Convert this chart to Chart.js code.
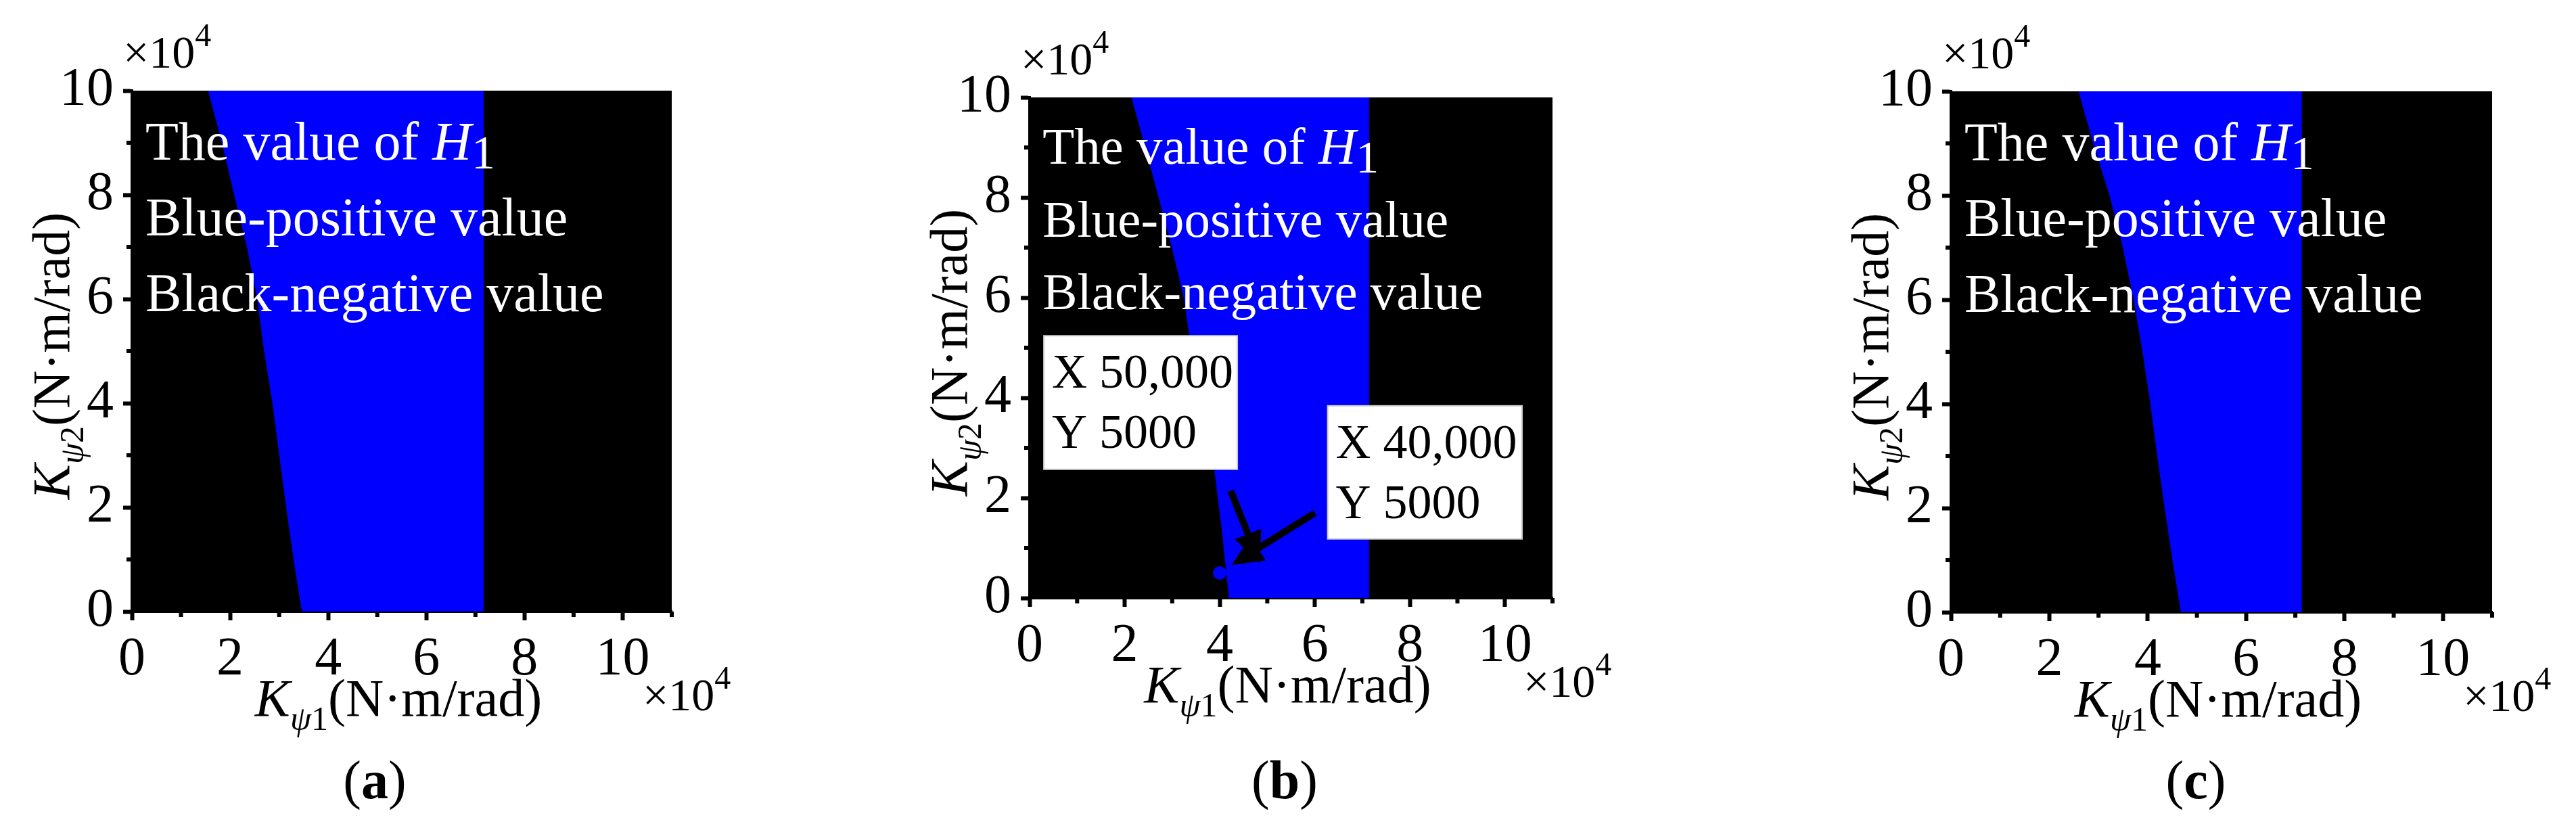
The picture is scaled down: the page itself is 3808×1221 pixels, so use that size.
<!DOCTYPE html>
<html>
<head>
<meta charset="utf-8">
<script src="https://cdn.jsdelivr.net/npm/chart.js@4.4.0/dist/chart.umd.min.js"></script>
<style>
  html, body { margin: 0; padding: 0; background: #fff; }
  #wrap { position: relative; width: 3808px; height: 1221px; overflow: hidden; background: #fff; }
  canvas { position: absolute; top: 0; }
</style>
</head>
<body>
<div id="wrap">
  <canvas id="chartA" width="1270" height="1221" style="left:0px"></canvas>
  <canvas id="chartB" width="1270" height="1221" style="left:1270px"></canvas>
  <canvas id="chartC" width="1268" height="1221" style="left:2540px"></canvas>
</div>
<script>
const SERIF = '"Liberation Serif", "Times New Roman", serif';

// axes (both in units of 10^4)
const xTicks = [0, 2, 4, 6, 8, 10];
const yTicks = [0, 2, 4, 6, 8, 10];
const xMinor = [1, 3, 5, 7, 9, 11];
const yMinor = [1, 3, 5, 7, 9];
const xMax = 11;
const yMax = 10;

// blue band (H1 > 0): left edge read at these K_psi2 values, right edge is vertical
const bandYA = [0, 1, 2, 3, 4, 5, 6, 7, 8, 9, 10];
const bandLeftA = [3.47, 3.30, 3.15, 3.01, 2.87, 2.70, 2.56, 2.35, 2.09, 1.84, 1.56];
const bandRightA = 7.16;

const bandYB = [0, 1.36, 2.58, 5.28, 6, 7, 8, 9, 10];
const bandLeftB = [4.20, 4.05, 3.89, 3.36, 3.25, 3.00, 2.72, 2.44, 2.15];
const bandRightB = 7.13;

const bandYC = [0, 1, 2, 3, 4, 5, 6, 7, 8, 9, 10];
const bandLeftC = [4.68, 4.51, 4.35, 4.20, 4.06, 3.90, 3.72, 3.50, 3.23, 2.90, 2.60];
const bandRightC = 7.12;

const noteLines = ['The value of ', 'Blue-positive value', 'Black-negative value'];

// panel (b): the two marked points and their callouts
const markX = [5, 4];
const markY = [0.5, 0.5];
const markColor = ['#000000', '#0000ff'];
const calloutText = [['X 50,000', 'Y 5000'], ['X 40,000', 'Y 5000']];
const calloutBox = [[0.30, 5.24, 4.37, 2.57], [6.27, 3.84, 10.36, 1.18]];
const arrowFrom = [[4.23, 2.14], [6.0, 1.70]];
const arrowTo = [[4.84, 0.70], [4.25, 0.66]];

const Y_W = 120, X_H = 130, H = 1221;

function bandPolygon(ys, lefts, right) {
  const pts = ys.map((y, i) => ({ x: lefts[i], y: y }));
  pts.push({ x: right, y: ys[ys.length - 1] });
  pts.push({ x: right, y: ys[0] });
  pts.push({ x: lefts[0], y: ys[0] });
  return pts;
}

function fontOf(p) {
  return (p.style || 'normal') + ' ' + (p.weight || 'normal') + ' ' + p.size + 'px ' + SERIF;
}

function drawRich(ctx, parts, x, y, align) {
  let total = 0;
  parts.forEach(p => { ctx.font = fontOf(p); p.w = ctx.measureText(p.t).width; total += p.w; });
  let cx = align === 'center' ? x - total / 2 : x;
  ctx.textAlign = 'left';
  ctx.textBaseline = 'alphabetic';
  parts.forEach(p => {
    ctx.font = fontOf(p);
    ctx.fillText(p.t, cx, y + (p.dy || 0));
    cx += p.w;
  });
}

function axisTitle(sub) {
  return [
    { t: 'K', size: 78, style: 'italic' },
    { t: '\u03c8', size: 50, style: 'italic', dy: 21 },
    { t: sub, size: 50, dy: 21 },
    { t: '(N\u00b7m/rad)', size: 78 }
  ];
}

function arrow(ctx, x1, y1, x2, y2) {
  const a = Math.atan2(y2 - y1, x2 - x1);
  const hl = 46, hw = 21;
  const bx = x2 - hl * Math.cos(a), by = y2 - hl * Math.sin(a);
  ctx.beginPath();
  ctx.moveTo(x1, y1);
  ctx.lineTo(bx, by);
  ctx.stroke();
  ctx.beginPath();
  ctx.moveTo(x2, y2);
  ctx.lineTo(bx + hw * Math.sin(a), by - hw * Math.cos(a));
  ctx.lineTo(bx - hw * Math.sin(a), by + hw * Math.cos(a));
  ctx.closePath();
  ctx.fill();
}

function makeDecor(p) {
  return {
    id: 'decor' + p.tag,
    beforeDraw(chart) {
      const { ctx, chartArea: a } = chart;
      ctx.save();
      ctx.fillStyle = '#000';
      ctx.fillRect(a.left, a.top, a.right - a.left, a.bottom - a.top);
      ctx.restore();
    },
    afterDatasetsDraw(chart) {
      const { ctx, chartArea: a } = chart;
      const xs = chart.scales.x, ys = chart.scales.y;
      const s = (a.bottom - a.top) / 770;
      ctx.save();
      ctx.fillStyle = '#fff';
      const tx = a.left + 20 * s;
      drawRich(ctx, [
        { t: noteLines[0], size: 80 * s },
        { t: 'H', size: 80 * s, style: 'italic' },
        { t: '1', size: 70 * s, dy: 13 * s }
      ], tx, a.top + 102 * s);
      drawRich(ctx, [{ t: noteLines[1], size: 80 * s }], tx, a.top + 214 * s);
      drawRich(ctx, [{ t: noteLines[2], size: 80 * s }], tx, a.top + 326 * s);

      if (p.marks) {
        ctx.strokeStyle = '#000';
        ctx.fillStyle = '#000';
        ctx.lineWidth = 10;
        ctx.lineCap = 'butt';
        arrowFrom.forEach((f, i) => {
          arrow(ctx, xs.getPixelForValue(f[0]), ys.getPixelForValue(f[1]),
            xs.getPixelForValue(arrowTo[i][0]), ys.getPixelForValue(arrowTo[i][1]));
        });
        calloutBox.forEach((b, i) => {
          const l = xs.getPixelForValue(b[0]), t = ys.getPixelForValue(b[1]);
          const r = xs.getPixelForValue(b[2]), btm = ys.getPixelForValue(b[3]);
          ctx.fillStyle = '#fff';
          ctx.fillRect(l, t, r - l, btm - t);
          ctx.strokeStyle = '#c8c8c8';
          ctx.lineWidth = 2;
          ctx.strokeRect(l, t, r - l, btm - t);
          ctx.fillStyle = '#000';
          drawRich(ctx, [{ t: calloutText[i][0], size: 72 }], l + 12, t + 77);
          drawRich(ctx, [{ t: calloutText[i][1], size: 72 }], l + 12, t + 166);
        });
      }
      ctx.restore();
    },
    afterDraw(chart) {
      const { ctx, chartArea: a } = chart;
      const xs = chart.scales.x, ys = chart.scales.y;
      ctx.save();
      ctx.strokeStyle = '#000';
      ctx.fillStyle = '#000';
      ctx.lineWidth = 6;
      xMinor.forEach(v => {
        const px = xs.getPixelForValue(v);
        ctx.beginPath(); ctx.moveTo(px, a.bottom); ctx.lineTo(px, a.bottom + 8); ctx.stroke();
      });
      yMinor.forEach(v => {
        const py = ys.getPixelForValue(v);
        ctx.beginPath(); ctx.moveTo(a.left - 8, py); ctx.lineTo(a.left, py); ctx.stroke();
      });

      // x10^4 multipliers
      const mult = [{ t: '\u00d710', size: 68 }, { t: '4', size: 48, dy: -32 }];
      drawRich(ctx, mult, a.left - 13, a.top - 34);
      drawRich(ctx, mult, a.right - 43, a.bottom + 146);

      // axis titles
      drawRich(ctx, axisTitle('1'), (a.left + a.right) / 2 - 5, a.bottom + 154, 'center');
      ctx.translate(a.left - 93, (a.top + a.bottom) / 2 + 7);
      ctx.rotate(-Math.PI / 2);
      drawRich(ctx, axisTitle('2'), 0, 0, 'center');
      ctx.setTransform(1, 0, 0, 1, 0, 0);

      // panel caption
      drawRich(ctx, [
        { t: '(', size: 80 },
        { t: p.tag, size: 80, weight: 'bold' },
        { t: ')', size: 80 }
      ], p.captionX, 1180, 'center');
      ctx.restore();
    }
  };
}

function panelChart(p) {
  const canvas = document.getElementById(p.id);
  const W = canvas.width;
  const datasets = [{
    data: bandPolygon(p.bandY, p.bandLeft, p.bandRight),
    borderColor: '#0000ff',
    borderWidth: 1,
    backgroundColor: '#0000ff',
    fill: 'shape',
    pointRadius: 0,
    tension: 0
  }];
  if (p.marks) {
    datasets.push({
      data: markX.map((x, i) => ({ x: x, y: markY[i] })),
      showLine: false,
      pointRadius: 10,
      pointBorderWidth: 0,
      pointBackgroundColor: markColor,
      pointBorderColor: markColor
    });
  }
  const tickFont = { family: SERIF, size: 80 };
  return new Chart(canvas, {
    type: 'line',
    data: { datasets: datasets },
    options: {
      responsive: false,
      animation: false,
      devicePixelRatio: 1,
      layout: {
        padding: { left: p.left - Y_W, top: p.top, right: W - p.right, bottom: H - p.bottom - X_H }
      },
      plugins: { legend: { display: false }, tooltip: { enabled: false } },
      scales: {
        x: {
          type: 'linear', min: 0, max: xMax,
          afterFit: s => { s.height = X_H; },
          afterBuildTicks: s => { s.ticks = xTicks.map(v => ({ value: v })); },
          ticks: { font: tickFont, color: '#000', padding: 11, autoSkip: false, maxRotation: 0, callback: v => String(v) },
          grid: { drawOnChartArea: false, tickLength: 13, tickWidth: 6, tickColor: '#000' },
          border: { display: true, color: '#000', width: 4 }
        },
        y: {
          type: 'linear', min: 0, max: yMax,
          afterFit: s => { s.width = Y_W; },
          afterBuildTicks: s => { s.ticks = yTicks.map(v => ({ value: v })); },
          ticks: { font: tickFont, color: '#000', padding: 14, autoSkip: false, callback: v => String(v) },
          grid: { drawOnChartArea: false, tickLength: 13, tickWidth: 6, tickColor: '#000' },
          border: { display: true, color: '#000', width: 4 }
        }
      }
    },
    plugins: [makeDecor(p)]
  });
}

panelChart({ id: 'chartA', tag: 'a', left: 195, top: 134, right: 993, bottom: 904, captionX: 554,
  bandY: bandYA, bandLeft: bandLeftA, bandRight: bandRightA });
panelChart({ id: 'chartB', tag: 'b', left: 252, top: 144, right: 1025, bottom: 884, captionX: 629,
  bandY: bandYB, bandLeft: bandLeftB, bandRight: bandRightB, marks: true });
panelChart({ id: 'chartC', tag: 'c', left: 344, top: 135, right: 1144, bottom: 905, captionX: 706,
  bandY: bandYC, bandLeft: bandLeftC, bandRight: bandRightC });
</script>
</body>
</html>
